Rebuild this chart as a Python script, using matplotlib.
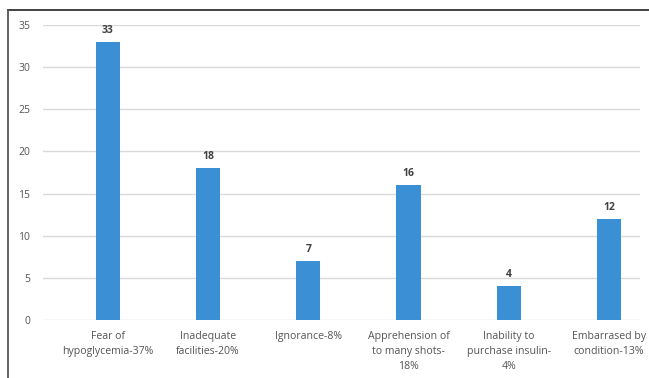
import matplotlib
matplotlib.use("Agg")
import matplotlib.pyplot as plt
from matplotlib.lines import Line2D

# reasons for not using insulin
reasons = ["Fear of\nhypoglycemia-37%", "Inadequate\nfacilities-20%", "Ignorance-8%",
           "Apprehension of\nto many shots-\n18%", "Inability to\npurchase insulin-\n4%",
           "Embarrased by\ncondition-13%"]
counts = [33, 18, 7, 16, 4, 12]
yticks = [0, 5, 10, 15, 20, 25, 30, 35]

plt.rcParams['font.family'] = ['Open Sans', 'DejaVu Sans']

fig = plt.figure(figsize=(6.49, 3.78), dpi=100)
ax = fig.add_axes([0.066, 0.1534, 0.92, 0.7805])

x = list(range(len(counts)))
bars = ax.bar(x, counts, width=0.24, color="#3b8fd4", zorder=3)
for b, v in zip(bars, counts):
    ax.text(b.get_x() + b.get_width() / 2, v + 0.7, str(v), ha="center", va="bottom",
            fontsize=7.5, fontweight="bold", color="#404040")

ax.set_ylim(0, 35)
ax.set_xlim(-0.65, 5.31)
ax.set_yticks(yticks)
ax.set_xticks(x)
ax.set_xticklabels(reasons, fontsize=7.6, color="#555555", linespacing=1.5)
ax.tick_params(axis="y", labelsize=7.5, labelcolor="#555555", length=0, pad=9)
ax.tick_params(axis="x", length=0, pad=8)
ax.grid(axis="y", color="#d9d9d9", linewidth=1, zorder=0)
for s in ax.spines.values():
    s.set_visible(False)

# frame lines along top and left edge
fig.add_artist(Line2D([8 / 649, 1], [1 - 10 / 378, 1 - 10 / 378], color="#333333", linewidth=1.3))
fig.add_artist(Line2D([8 / 649, 8 / 649], [0, 1 - 10 / 378], color="#555555", linewidth=1.3))

fig.savefig("out.png", dpi=100)
